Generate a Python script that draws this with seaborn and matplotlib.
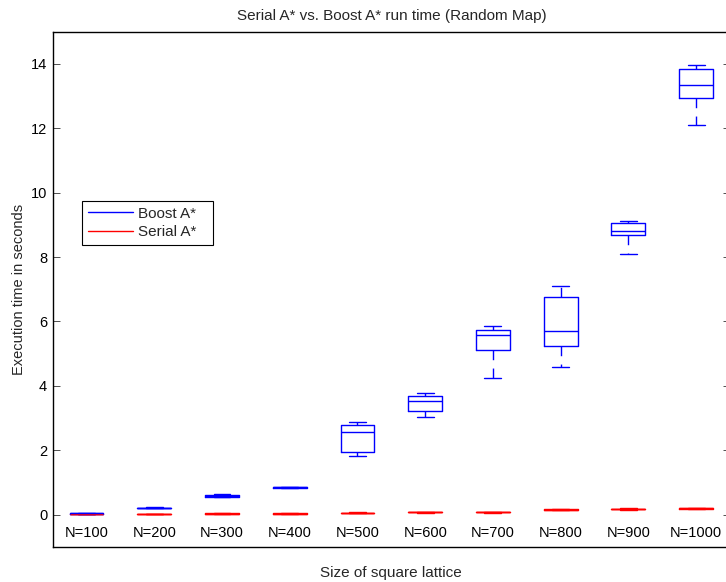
import numpy as np
import pandas as pd
import seaborn as sns
import matplotlib
matplotlib.use("Agg")
import matplotlib.pyplot as plt
from matplotlib.lines import Line2D

# Lattice sizes shown on the x axis
sizes = ["N=100", "N=200", "N=300", "N=400", "N=500",
         "N=600", "N=700", "N=800", "N=900", "N=1000"]

# Five-number summaries per lattice size: min, Q1, median, Q3, max (seconds)
boost_times = [
    [0.02, 0.03, 0.04, 0.05, 0.06],
    [0.19, 0.20, 0.20, 0.21, 0.22],
    [0.53, 0.55, 0.58, 0.62, 0.64],
    [0.82, 0.83, 0.84, 0.85, 0.86],
    [1.81, 1.95, 2.57, 2.79, 2.87],
    [3.02, 3.22, 3.54, 3.67, 3.77],
    [4.23, 5.11, 5.58, 5.74, 5.85],
    [4.59, 5.24, 5.71, 6.76, 7.09],
    [8.10, 8.67, 8.81, 9.06, 9.11],
    [12.10, 12.93, 13.35, 13.83, 13.98],
]
serial_times = [
    [0.01, 0.01, 0.02, 0.02, 0.02],
    [0.02, 0.02, 0.03, 0.03, 0.03],
    [0.02, 0.03, 0.03, 0.04, 0.04],
    [0.02, 0.03, 0.03, 0.04, 0.04],
    [0.05, 0.05, 0.06, 0.06, 0.07],
    [0.06, 0.07, 0.07, 0.08, 0.08],
    [0.06, 0.07, 0.07, 0.08, 0.08],
    [0.13, 0.14, 0.15, 0.16, 0.17],
    [0.15, 0.16, 0.17, 0.18, 0.19],
    [0.17, 0.18, 0.19, 0.19, 0.20],
]
series_names = ["Boost A*", "Serial A*"]
series_colors = ["#0000ff", "#ff0000"]
y_ticks = [0, 2, 4, 6, 8, 10, 12, 14]


def long_frame(times):
    rows = []
    for size, vals in zip(sizes, times):
        for v in vals:
            rows.append({"size": size, "time": v})
    return pd.DataFrame(rows)


sns.set_style("white")
plt.rcParams["font.family"] = ["Liberation Sans", "DejaVu Sans"]
plt.rcParams["font.size"] = 10.5

fig = plt.figure(figsize=(7.26, 5.82), dpi=100)
ax = fig.add_axes([52.7 / 726, 35.3 / 582, (730 - 52.7) / 726, (546.7 - 31.7) / 582])

lw = 1.0
for times, color in [(serial_times, series_colors[1]), (boost_times, series_colors[0])]:
    sns.boxplot(
        data=long_frame(times), x="size", y="time", order=sizes,
        color=color, fill=False, width=0.5, linewidth=lw,
        whis=(0, 100), showfliers=False,
        whiskerprops=dict(linestyle=(0, (7, 6))),
        ax=ax,
    )

ax.set_xlim(-0.5, len(sizes) - 0.5)
ax.set_ylim(-1, 15)
ax.set_yticks(y_ticks)
ax.set_yticklabels([str(t) for t in y_ticks])

# Category labels sit just inside the bottom of the axes
ax.tick_params(axis="x", length=0, pad=-15, labelsize=10.5, labelcolor="black")
ax.tick_params(axis="y", direction="in", left=True, right=True, length=5,
               width=0.6, color="#333333", labelsize=10.5, pad=4,
               labelcolor="black")

for sp in ax.spines.values():
    sp.set_visible(True)
    sp.set_color("black")
    sp.set_linewidth(1.0)

ax.set_title("Serial A* vs. Boost A* run time (Random Map)", fontsize=11, pad=8.5)
ax.set_xlabel("Size of square lattice", fontsize=11, labelpad=14)
ax.set_ylabel("Execution time in seconds", fontsize=10.5, labelpad=3.5)

handles = [Line2D([], [], color=c, lw=lw) for c in series_colors]
leg = fig.legend(handles, series_names, loc="upper left",
                 bbox_to_anchor=(82 / 726, 1 - 243 / 582, 131 / 726, 42 / 582),
                 bbox_transform=fig.transFigure, borderaxespad=0, mode="expand",
                 frameon=True, fancybox=False, framealpha=1,
                 handlelength=3.0, handletextpad=0.3, labelspacing=0.3,
                 borderpad=0.36, fontsize=11)
leg.get_frame().set_edgecolor("black")
leg.get_frame().set_linewidth(0.8)

fig.savefig("out.png", dpi=100)
